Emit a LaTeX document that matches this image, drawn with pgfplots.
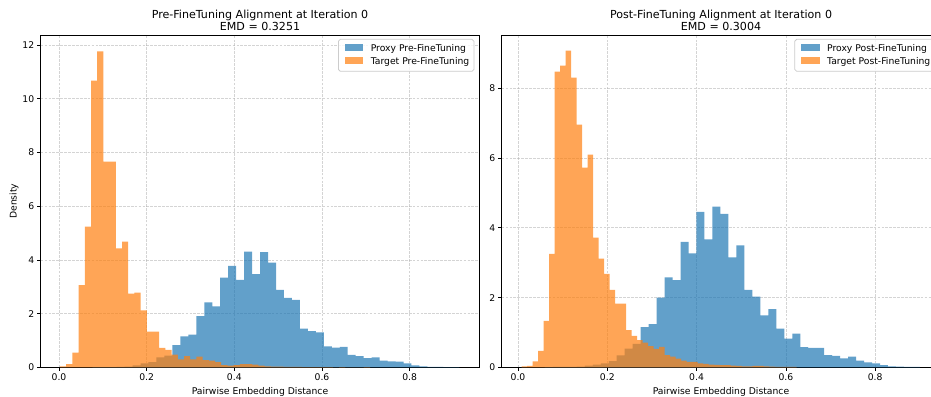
\documentclass[border=0pt]{standalone}
\usepackage{fontspec}
\setmainfont{DejaVu Sans}
\usepackage{pgfplots}
\pgfplotsset{compat=1.18}
\definecolor{c0}{HTML}{1F77B4}
\definecolor{c1}{HTML}{FF7F0E}
\definecolor{gridc}{HTML}{B0B0B0}
\newcommand{\lf}{\fontsize{10}{12}\selectfont}
\newcommand{\hleg}[2]{\raisebox{0.2pt}{\textcolor{#1}{\rule{20pt}{7pt}}}\hspace{8pt}#2}
\tikzset{
  legbox/.style={anchor=north east, xshift=-5.5pt, yshift=-4.3pt, draw=black!20, line width=0.8pt,
    rounded corners=2pt, fill=white, fill opacity=0.8, text opacity=1, font=\lf,
    inner xsep=5pt, inner ysep=4.25pt},
}
\pgfplotsset{
  hist/.style={
    scale only axis, width=474.9pt, height=359.8pt,
    ymin=0,
    axis line style={line width=0.8pt, black},
    every tick/.style={line width=0.8pt, black},
    tick align=outside, major tick length=3.5pt,
    xtick pos=left, ytick pos=left,
    grid=major,
    major grid style={gridc, line width=0.8pt, opacity=0.55, dash pattern=on 2.96pt off 1.28pt},
    xtick={0,0.2,0.4,0.6,0.8},
    xticklabel style={/pgf/number format/fixed, /pgf/number format/fixed zerofill, /pgf/number format/precision=1},
    /pgf/number format/assume math mode=true,
    ticklabel style={font=\lf},
    label style={font=\lf},
    xlabel={Pairwise Embedding Distance},
    xlabel style={at={(axis description cs:0.5,0)}, anchor=base, yshift=-28.9pt},
    title style={font=\fontsize{12}{13}\selectfont, align=center, at={(0.5,1)}, anchor=south, yshift=-4.5pt},
  },
  bl/.style={const plot, fill=c0, fill opacity=0.7, draw=none},
  or/.style={const plot, fill=c1, fill opacity=0.7, draw=none},
}
\begin{document}
\begin{tikzpicture}
\begin{axis}[hist, at={(0pt,0pt)}, anchor=south west,
  xmin=-0.0418, xmax=0.959, ymax=12.37, ytick={0,2,4,6,8,10,12},
  ylabel={Density},
  ylabel style={at={(axis description cs:-0.0609,0.5)}, anchor=center},
  title={Pre-FineTuning Alignment at Iteration 0\\EMD = 0.3251}]
\addplot[bl] coordinates {
(0.0041,0.0) (0.0223,0.0) (0.0405,0.0) (0.0587,0.0) (0.0768,0.005) (0.0950,0.01)
(0.1132,0.01) (0.1314,0.02) (0.1496,0.03) (0.1678,0.07) (0.1859,0.15) (0.2041,0.19)
(0.2223,0.37) (0.2405,0.44) (0.2587,0.83) (0.2769,1.15) (0.2950,1.22) (0.3132,1.91)
(0.3314,2.42) (0.3496,2.27) (0.3678,3.34) (0.3860,3.78) (0.4041,3.26) (0.4223,4.31)
(0.4405,3.47) (0.4587,4.29) (0.4769,3.90) (0.4951,2.88) (0.5133,2.59) (0.5314,2.51)
(0.5496,1.44) (0.5678,1.35) (0.5860,1.30) (0.6042,0.78) (0.6224,0.73) (0.6405,0.76)
(0.6587,0.46) (0.6769,0.42) (0.6951,0.34) (0.7133,0.37) (0.7315,0.25) (0.7496,0.22)
(0.7678,0.21) (0.7860,0.15) (0.8042,0.07) (0.8224,0.04) (0.8406,0.02) (0.8587,0.02)
(0.8769,0.01) (0.8951,0.01) (0.9133,0.01)} \closedcycle;
\addplot[or] coordinates {
(0.0023,0.04) (0.0164,0.12) (0.0306,0.55) (0.0447,3.06) (0.0589,5.24) (0.0730,10.67)
(0.0872,11.76) (0.1013,7.66) (0.1155,7.66) (0.1296,4.43) (0.1438,4.68) (0.1579,2.74)
(0.1721,2.78) (0.1862,2.12) (0.2003,1.33) (0.2145,1.33) (0.2286,0.72) (0.2428,0.65)
(0.2569,0.47) (0.2711,0.30) (0.2852,0.42) (0.2994,0.30) (0.3135,0.40) (0.3277,0.27)
(0.3418,0.25) (0.3560,0.19) (0.3701,0.08) (0.3842,0.06) (0.3984,0.08) (0.4125,0.12)
(0.4267,0.12) (0.4408,0.10) (0.4550,0.06) (0.4691,0.04) (0.4833,0.03) (0.4974,0.03)
(0.5116,0.02) (0.5257,0.02) (0.5398,0.02) (0.5540,0.01) (0.5681,0.01) (0.5823,0.01)
(0.5964,0.01) (0.6106,0.01) (0.6247,0.0) (0.6389,0.01) (0.6530,0.0) (0.6672,0.0)
(0.6813,0.0) (0.6955,0.01) (0.7096,0.01)} \closedcycle;
\node[legbox] at (rel axis cs:1,1) {\begin{tabular}{@{\hspace{2pt}}l@{}}
\hleg{c0!70}{Proxy Pre-FineTuning}\\[2.1pt]
\hleg{c1!70}{Target Pre-FineTuning}\end{tabular}};
\end{axis}
\begin{axis}[hist, at={(499.1pt,0pt)}, anchor=south west,
  xmin=-0.0365, xmax=0.946, ymax=9.53, ytick={0,2,4,6,8},
  title={Post-FineTuning Alignment at Iteration 0\\EMD = 0.3004}]
\addplot[bl] coordinates {
(0.0067,0.0) (0.0246,0.0) (0.0424,0.0) (0.0603,0.005) (0.0782,0.01) (0.0961,0.01)
(0.1139,0.01) (0.1318,0.02) (0.1497,0.05) (0.1675,0.08) (0.1854,0.11) (0.2033,0.18)
(0.2211,0.34) (0.2390,0.54) (0.2569,0.67) (0.2748,1.15) (0.2926,1.24) (0.3105,2.00)
(0.3284,2.58) (0.3462,2.50) (0.3641,3.60) (0.3820,3.27) (0.3998,4.46) (0.4177,3.67)
(0.4356,4.61) (0.4535,4.40) (0.4713,3.15) (0.4892,3.50) (0.5071,2.22) (0.5249,2.03)
(0.5428,1.49) (0.5607,1.67) (0.5785,1.11) (0.5964,0.82) (0.6143,0.97) (0.6322,0.58)
(0.6500,0.56) (0.6679,0.56) (0.6858,0.35) (0.7036,0.33) (0.7215,0.26) (0.7394,0.31)
(0.7572,0.19) (0.7751,0.14) (0.7930,0.11) (0.8109,0.06) (0.8287,0.03) (0.8466,0.02)
(0.8645,0.01) (0.8823,0.01) (0.9002,0.01)} \closedcycle;
\addplot[or] coordinates {
(0.0083,0.03) (0.0206,0.04) (0.0329,0.17) (0.0453,0.47) (0.0576,1.33) (0.0699,3.25)
(0.0822,8.48) (0.0945,8.65) (0.1068,9.08) (0.1192,8.31) (0.1315,6.96) (0.1438,5.73)
(0.1561,6.10) (0.1684,3.72) (0.1808,3.12) (0.1931,2.68) (0.2054,2.22) (0.2177,1.83)
(0.2300,1.83) (0.2423,1.07) (0.2547,0.90) (0.2670,0.78) (0.2793,0.71) (0.2916,0.61)
(0.3039,0.53) (0.3163,0.59) (0.3286,0.35) (0.3409,0.31) (0.3532,0.25) (0.3655,0.19)
(0.3778,0.16) (0.3902,0.16) (0.4025,0.11) (0.4148,0.10) (0.4271,0.08) (0.4394,0.07)
(0.4517,0.06) (0.4641,0.06) (0.4764,0.05) (0.4887,0.04) (0.5010,0.03) (0.5133,0.03)
(0.5257,0.04) (0.5380,0.04) (0.5503,0.03) (0.5626,0.02) (0.5749,0.01) (0.5872,0.01)
(0.5996,0.01) (0.6119,0.01) (0.6242,0.01)} \closedcycle;
\node[legbox] at (rel axis cs:1,1) {\begin{tabular}{@{\hspace{2pt}}l@{}}
\hleg{c0!70}{Proxy Post-FineTuning}\\[2.1pt]
\hleg{c1!70}{Target Post-FineTuning}\end{tabular}};
\end{axis}
\pgfresetboundingbox
\useasboundingbox (-44.07pt,-31.07pt) rectangle (963.9pt,397.7pt);
\end{tikzpicture}
\end{document}
